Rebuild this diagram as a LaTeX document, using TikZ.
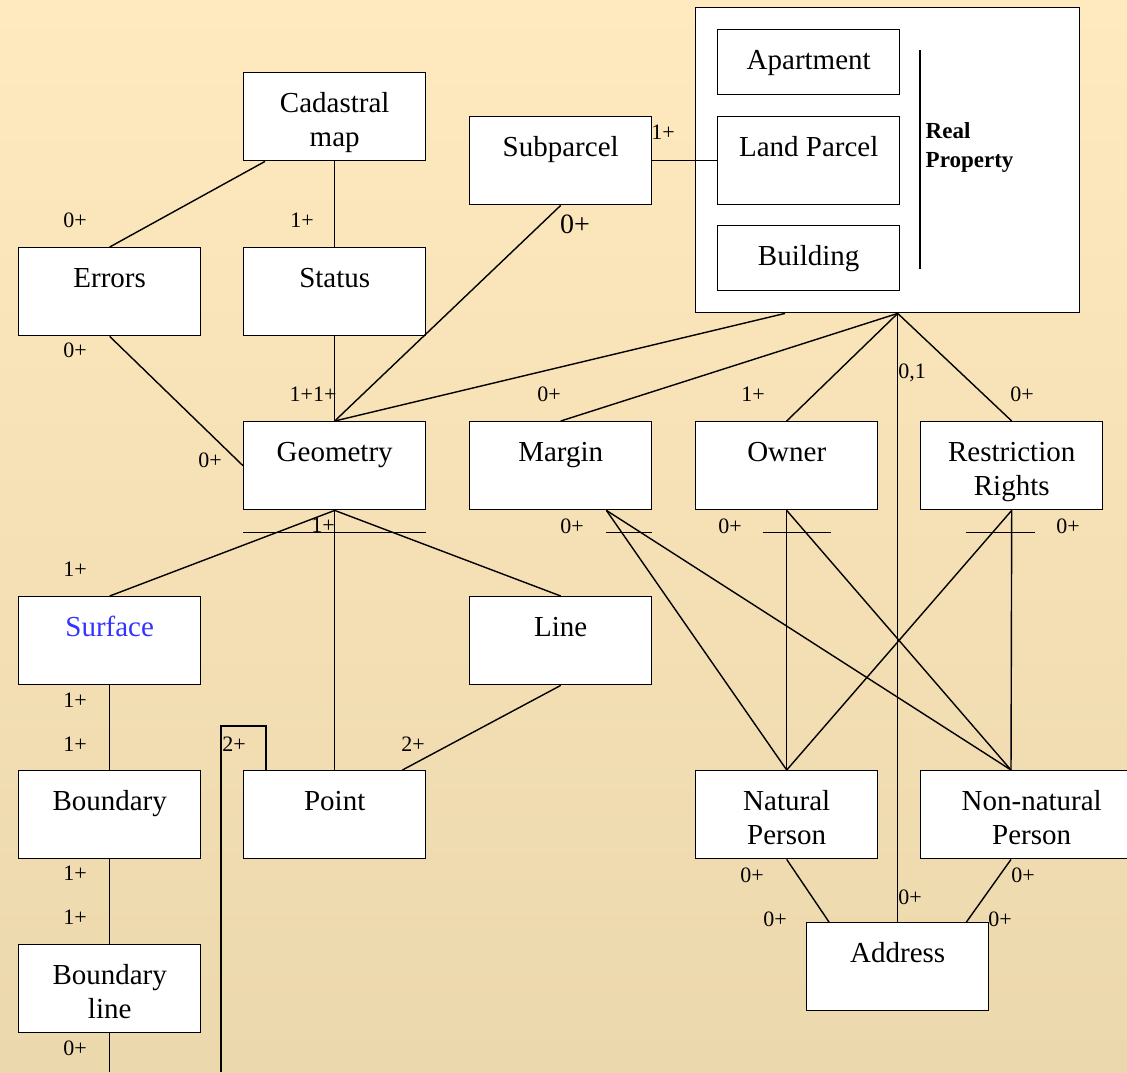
\documentclass[tikz,border=0pt]{standalone}
\usepackage{fontspec}
\setmainfont{Liberation Serif}
\usetikzlibrary{shapes}
\definecolor{bgtop}{RGB}{255,233,191}
\definecolor{bgbot}{RGB}{236,216,173}
\definecolor{surfblue}{RGB}{51,51,255}

\begin{document}
\begin{tikzpicture}[x=0.5pt,y=-0.5pt,line width=0.7pt]
\tikzstyle{entity}=[rectangle,draw,fill=white,anchor=north west,minimum width=91pt,inner sep=0pt,text height=20pt,text depth=24pt,align=center,font=\fontsize{14.5}{17}\selectfont]
\tikzstyle{twoline}=[entity,text height=37pt,text depth=7pt]
\tikzstyle{low}=[entity,text depth=12.5pt]
\tikzstyle{card}=[inner sep=0pt,font=\fontsize{11}{13}\selectfont]

\useasboundingbox (0,0) rectangle (1127,1072);
\clip (0,0) rectangle (1127,1072);
\shade[top color=bgtop,bottom color=bgbot] (0,0) rectangle (1127,1072);

% real property group
\node[draw,fill=white,anchor=north west,minimum width=192pt,minimum height=152.5pt,inner sep=0pt](RP) at (695,7) {};
\node[low](AP) at (717,29) {Apartment};
\node[entity](LP) at (717,116) {Land Parcel};
\node[low](BU) at (717,225) {Building};
\draw (920,50) -- (920,269);
\node[anchor=north west,inner sep=0pt,align=left,font=\bfseries\fontsize{11.5}{14.5}\selectfont](RPL) at (925,122) {Real\\ Property};

\node[twoline](CM) at (243,72) {Cadastral\\map};
\node[entity](E) at (18,247) {Errors};
\node[entity](ST) at (243,247) {Status};
\node[entity](SP) at (469,116) {Subparcel};
\node[entity](G) at (243,421) {Geometry};
\node[entity](M) at (469,421) {Margin};
\node[entity](O) at (695,421) {Owner};
\node[twoline](R) at (920,421) {Restriction\\Rights};
\node[entity,text=surfblue](SU) at (18,596) {Surface};
\node[entity](L) at (469,596) {Line};
\node[entity](B) at (18,770) {Boundary};
\node[entity](P) at (243,770) {Point};
\node[twoline](NP) at (695,770) {Natural\\Person};
\node[twoline,minimum width=111pt](NN) at (920,770) {Non-natural\\Person};
\node[entity](A) at (806,922) {Address};
\node[twoline](BL) at (18,944) {Boundary\\line};

\coordinate (H) at (RP.south -| A.north);
\coordinate (LB) at (221,1072);

\draw ([xshift=11pt]CM.south west) -- (E.north);
\draw (CM.south) -- (ST.north);
\draw (E.south) -- (G.west);
\draw (ST.south) -- (G.north);
\draw (SP.south) -- (G.north);
\draw (SP.east) -- (LP.west);
\draw ([xshift=45pt]RP.south west) -- (G.north);
\draw (H) -- (M.north);
\draw (H) -- (O.north);
\draw (H) -- (R.north);
\draw (H) -- (A.north);
\draw (G.south) -- (SU.north);
\draw (G.south) -- (P.north);
\draw (G.south) -- (L.north);
\draw ([yshift=-11pt]G.south west) -- ([yshift=-11pt]G.south east);
\draw (SU.south) -- (B.north);
\draw (B.south) -- (BL.north);
\draw (BL.south) -- (BL.south |- LB);
\draw (L.south) -- ([xshift=-12pt]P.north east);
\draw ([xshift=11.5pt]P.north west) -- ++(0,-44) -| (LB);
\draw ([xshift=-23pt]M.south east) -- (NP.north);
\draw ([xshift=-23pt]M.south east) -- ([xshift=45.5pt]NN.north west);
\draw ([shift={(-23pt,-11pt)}]M.south east) -- ([yshift=-11pt]M.south east);
\draw (O.south) -- (NP.north);
\draw (O.south) -- ([xshift=45.5pt]NN.north west);
\draw ([shift={(-12pt,-11pt)}]O.south) -- ([shift={(22pt,-11pt)}]O.south);
\draw (R.south) -- (NP.north);
\draw (R.south) -- ([xshift=45.5pt]NN.north west);
\draw ([shift={(-23pt,-11pt)}]R.south) -- ([shift={(11.5pt,-11pt)}]R.south);
\draw (NP.south) -- ([xshift=11.5pt]A.north west);
\draw ([xshift=45.5pt]NN.south west) -- ([xshift=-11.5pt]A.north east);

% multiplicities
\node[card](m1) at (75,220) {0+};
\node[card](m2) at (302,220) {1+};
\node[card](m3) at (75,350) {0+};
\node[card](m4) at (210,460) {0+};
\node[card](m5) at (313,394) {1+1+};
\node[card,font=\fontsize{14}{16}\selectfont](m6) at (575,224) {0+};
\node[card](m7) at (663,132) {1+};
\node[card](m8) at (549,394) {0+};
\node[card](m9) at (753,394) {1+};
\node[card](m10) at (912,373) {0,1};
\node[card](m11) at (1022,394) {0+};
\node[card](m12) at (75,569) {1+};
\node[card](m13) at (323,525) {1+};
\node[card](m14) at (572,526) {0+};
\node[card](m15) at (730,526) {0+};
\node[card](m16) at (1068,526) {0+};
\node[card](m17) at (75,700) {1+};
\node[card](m18) at (75,744) {1+};
\node[card](m19) at (234,744) {2+};
\node[card](m20) at (413,744) {2+};
\node[card](m21) at (75,873) {1+};
\node[card](m22) at (75,917) {1+};
\node[card](m23) at (75,1048) {0+};
\node[card](m24) at (752,875) {0+};
\node[card](m25) at (775,919) {0+};
\node[card](m26) at (910,897) {0+};
\node[card](m27) at (1023,875) {0+};
\node[card](m28) at (1000,919) {0+};
\end{tikzpicture}
\end{document}
